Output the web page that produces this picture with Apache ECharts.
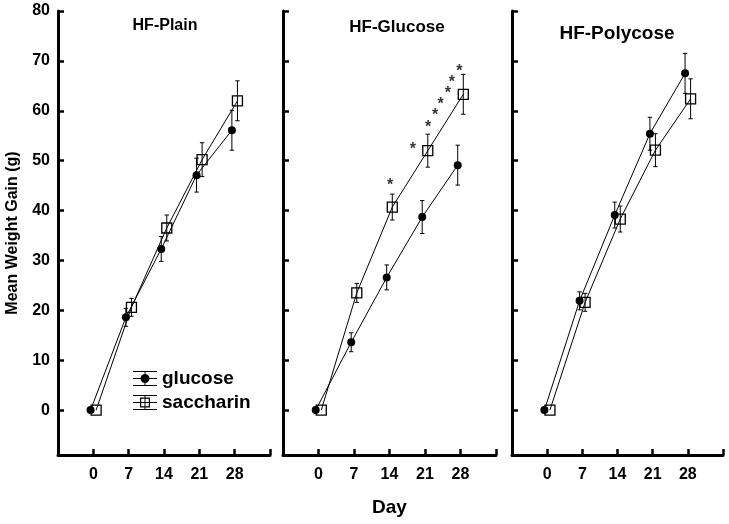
<!DOCTYPE html>
<html><head><meta charset="utf-8">
<script src="https://cdn.jsdelivr.net/npm/echarts@6/dist/echarts.min.js"></script>
<style>html,body{margin:0;padding:0;background:#fff}#c{width:729px;height:524px}</style>
</head><body><div id="c"></div>
<script>
// ---- data ----
const days = [0, 7, 14, 21, 28];
const panelTitles = ['HF-Plain', 'HF-Glucose', 'HF-Polycose'];
const seriesNames = ['glucose', 'saccharin'];
const xTickLabels = [0, 7, 14, 21, 28];
const yTickLabels = [0, 10, 20, 30, 40, 50, 60, 70, 80];

const plainGlucose = [0, 18.6, 32.3, 47.1, 56.1];
const plainGlucoseErr = [0, 1.8, 2.5, 3.4, 4.0];
const plainSaccharin = [0, 20.6, 36.5, 50.2, 62.0];
const plainSaccharinErr = [0, 1.8, 2.6, 3.4, 4.0];

const glucoseGlucose = [0, 13.6, 26.6, 38.7, 49.1];
const glucoseGlucoseErr = [0, 1.9, 2.5, 3.3, 4.0];
const glucoseSaccharin = [0, 23.5, 40.7, 52.0, 63.3];
const glucoseSaccharinErr = [0, 1.9, 2.6, 3.3, 4.0];

const polyGlucose = [0, 21.9, 39.1, 55.4, 67.5];
const polyGlucoseErr = [0, 1.8, 2.6, 3.3, 4.0];
const polySaccharin = [0, 21.6, 38.3, 52.1, 62.4];
const polySaccharinErr = [0, 1.8, 2.6, 3.3, 4.0];

// significance asterisks in the HF-Glucose panel
const starDays = [14.1, 18.6, 21.6, 23.0, 24.1, 25.5, 26.3, 27.8];
const starValues = [45.9, 53.0, 57.5, 59.9, 62.1, 64.3, 66.5, 68.6];

// ---- chart ----
const FONT = '"Liberation Sans", Arial, Helvetica, sans-serif';
const JITTER = 0.55;
const panels = [
  {g: plainGlucose, ge: plainGlucoseErr, s: plainSaccharin, se: plainSaccharinErr},
  {g: glucoseGlucose, ge: glucoseGlucoseErr, s: glucoseSaccharin, se: glucoseSaccharinErr},
  {g: polyGlucose, ge: polyGlucoseErr, s: polySaccharin, se: polySaccharinErr}
];
const gridPos = [{left: 58, width: 212}, {left: 283, width: 213}, {left: 512, width: 211}];
const titlePos = [{x: 160, y: 13, size: 16}, {x: 392, y: 13.5, size: 17}, {x: 612, y: 19, size: 19}];

function errRender(params, api) {
  const x = api.value(0), lo = api.value(1), hi = api.value(2);
  const p1 = api.coord([x, hi]), p2 = api.coord([x, lo]);
  const cw = 2.2;
  const st = {stroke: '#000', lineWidth: 1};
  return {type: 'group', children: [
    {type: 'line', shape: {x1: p1[0], y1: p1[1], x2: p2[0], y2: p2[1]}, style: st},
    {type: 'line', shape: {x1: p1[0] - cw, y1: p1[1], x2: p1[0] + cw, y2: p1[1]}, style: st},
    {type: 'line', shape: {x1: p2[0] - cw, y1: p2[1], x2: p2[0] + cw, y2: p2[1]}, style: st}
  ]};
}
function errData(vals, errs, off) {
  const out = [];
  days.forEach((d, k) => { if (errs[k] > 0) out.push([d + off, vals[k] - errs[k], vals[k] + errs[k]]); });
  return out;
}

const grid = [], xAxis = [], yAxis = [], series = [], title = [];
panels.forEach((p, i) => {
  grid.push({left: gridPos[i].left, width: gridPos[i].width, top: 11, height: 444});
  title.push({text: panelTitles[i], left: titlePos[i].x, top: titlePos[i].y, textAlign: 'center',
    textStyle: {fontFamily: FONT, fontWeight: 'bold', fontSize: titlePos[i].size, color: '#000'}});
  xAxis.push({
    type: 'value', gridIndex: i, min: -7, max: 35, interval: 7,
    axisLine: {onZero: false, lineStyle: {color: '#000', width: 3}},
    axisTick: {inside: true, length: 6, lineStyle: {color: '#000', width: 2.5}},
    axisLabel: {customValues: xTickLabels, color: '#000', fontFamily: FONT, fontWeight: 'bold', fontSize: 16, margin: 12},
    splitLine: {show: false},
    name: i === 1 ? 'Day' : '', nameLocation: 'middle', nameGap: 43,
    nameTextStyle: {fontFamily: FONT, fontWeight: 'bold', fontSize: 19, color: '#000'}
  });
  yAxis.push({
    type: 'value', gridIndex: i, min: -9, max: 80,
    axisLine: {onZero: false, lineStyle: {color: '#000', width: 3}},
    axisTick: {inside: true, length: 6, customValues: yTickLabels, lineStyle: {color: '#000', width: 2.5}},
    axisLabel: {show: i === 0, customValues: yTickLabels, color: '#000', fontFamily: FONT, fontWeight: 'bold', fontSize: 16, margin: 8},
    splitLine: {show: false},
    name: i === 0 ? 'Mean Weight Gain (g)' : '', nameLocation: 'middle', nameGap: 37,
    nameTextStyle: {fontFamily: FONT, fontWeight: 'bold', fontSize: 16, color: '#000'}
  });
  series.push({
    type: 'custom', name: 'err-g-' + i, xAxisIndex: i, yAxisIndex: i, renderItem: errRender,
    encode: {x: 0, y: [1, 2]}, data: errData(p.g, p.ge, -JITTER), z: 2, silent: true
  });
  series.push({
    type: 'custom', name: 'err-s-' + i, xAxisIndex: i, yAxisIndex: i, renderItem: errRender,
    encode: {x: 0, y: [1, 2]}, data: errData(p.s, p.se, JITTER), z: 2, silent: true
  });
  series.push({
    type: 'line', name: seriesNames[0], xAxisIndex: i, yAxisIndex: i,
    data: days.map((d, k) => [d - JITTER, p.g[k]]),
    symbol: 'circle', symbolSize: 8, showAllSymbol: true,
    itemStyle: {color: '#000'}, lineStyle: {color: '#000', width: 1}, z: 3
  });
  series.push({
    type: 'line', name: seriesNames[1], xAxisIndex: i, yAxisIndex: i,
    data: days.map((d, k) => [d + JITTER, p.s[k]]),
    symbol: 'rect', symbolSize: 10, showAllSymbol: true,
    itemStyle: {color: 'rgba(0,0,0,0)', borderColor: '#000', borderWidth: 1.3},
    lineStyle: {color: '#000', width: 1}, z: 3
  });
});
series.push({
  type: 'scatter', name: 'stars', xAxisIndex: 1, yAxisIndex: 1,
  data: starDays.map((d, k) => [d, starValues[k]]),
  symbol: 'circle', symbolSize: 2, itemStyle: {color: 'rgba(0,0,0,0)'}, silent: true, z: 4,
  label: {show: true, position: 'inside', formatter: '*', offset: [0, 4],
    fontFamily: FONT, fontWeight: 'bold', fontSize: 16, color: '#000'}
});

const lines = 'M0,0H24V1H0Z M0,7H24V8H0Z M0,14H24V15H0Z M11.5,0H12.5V15H11.5Z ';
const iconG = 'path://' + lines + 'M7.5,7.5A4.5,4.5 0 1 1 16.5,7.5A4.5,4.5 0 1 1 7.5,7.5Z';
const iconS = 'path://' + lines + 'M7,2.5H17V12.5H7Z M8.2,3.7V11.3H15.8V3.7Z';

const option = {
  animation: false,
  backgroundColor: '#fff',
  title: title,
  grid: grid, xAxis: xAxis, yAxis: yAxis, series: series,
  legend: {
    left: 128, top: 364, orient: 'vertical', itemWidth: 24, itemHeight: 15, itemGap: 5,
    selectedMode: false,
    textStyle: {fontFamily: FONT, fontWeight: 'bold', fontSize: 19, color: '#000'},
    data: [
      {name: seriesNames[0], icon: iconG, itemStyle: {color: '#000', borderWidth: 0}},
      {name: seriesNames[1], icon: iconS, itemStyle: {color: '#000', borderWidth: 0}}
    ]
  }
};
const chart = echarts.init(document.getElementById('c'), null, {renderer: 'canvas'});
chart.setOption(option);
</script></body></html>
